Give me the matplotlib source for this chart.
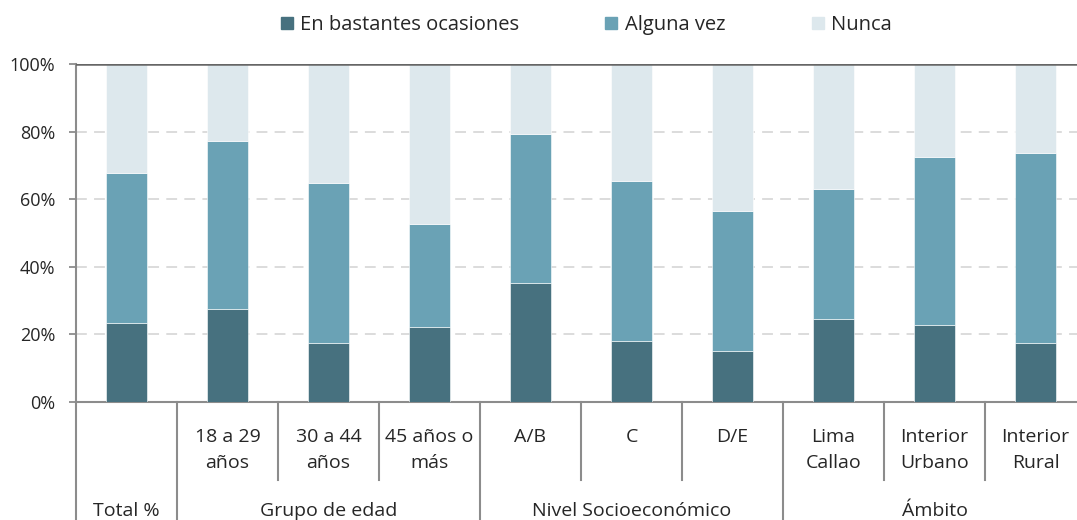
import matplotlib
matplotlib.use("Agg")
from matplotlib import pyplot as plt
from matplotlib.patches import Patch
import numpy as np

plt.rcParams['font.family'] = ['Open Sans', 'DejaVu Sans']

categorias = ["", "18 a 29\naños", "30 a 44\naños", "45 años o\nmás", "A/B", "C", "D/E",
              "Lima\nCallao", "Interior\nUrbano", "Interior\nRural"]
grupos = ["Total %", "Grupo de edad", "Nivel Socioeconómico", "Ámbito"]
grupo_centros = [0, 2, 5, 8]

bastantes = [23.3, 27.5, 17.5, 22.2, 35.2, 18.2, 15.2, 24.6, 22.8, 17.5]
alguna = [44.4, 49.7, 47.4, 30.6, 44.2, 47.1, 41.4, 38.4, 49.7, 56.1]
nunca = [32.3, 22.8, 35.1, 47.2, 20.6, 34.7, 43.4, 37.0, 27.5, 26.4]

c_osc = "#47717f"
c_med = "#6aa2b5"
c_cla = "#dde8ed"
gris = "#8c8c8c"
texto = "#262626"

fig = plt.figure(figsize=(10.77, 5.2), dpi=100)
ax = fig.add_axes([76 / 1077, 1 - 402 / 520, 1010 / 1077, (402 - 64.3) / 520])

x = np.arange(len(categorias))
w = 0.41
b1 = np.array(bastantes)
b2 = b1 + np.array(alguna)
ax.bar(x, bastantes, w, color=c_osc, edgecolor="white", linewidth=0.4, zorder=3)
ax.bar(x, alguna, w, bottom=b1, color=c_med, edgecolor="white", linewidth=0.4, zorder=3)
ax.bar(x, nunca, w, bottom=b2, color=c_cla, edgecolor="white", linewidth=0.4, zorder=3)

ax.set_xlim(-0.5, 9.5)
ax.set_ylim(0, 100)
ax.set_yticks(range(0, 101, 20))
ax.set_yticklabels([f"{v}%" for v in range(0, 101, 20)], fontsize=13, color=texto)
ax.tick_params(axis="y", length=5, width=1.3, color=gris, pad=10)
ax.set_xticks([])

for v in [20, 40, 60, 80]:
    ax.axhline(v, color="#d9d9d9", lw=1.3, ls=(0, (6, 4)), zorder=1)
ax.axhline(100, color="#666666", lw=1.8, zorder=4)

for s in ["top", "right"]:
    ax.spines[s].set_visible(False)
ax.spines["left"].set_color(gris)
ax.spines["left"].set_linewidth(1.5)
ax.spines["bottom"].set_color(gris)
ax.spines["bottom"].set_linewidth(1.5)

tr = ax.get_xaxis_transform()
alto = 402 - 64.3
for sx in [-0.5, 0.5, 3.5, 6.5, 9.5]:
    ax.plot([sx, sx], [0, -(520 - 402) / alto], transform=tr, color=gris, lw=1.5, clip_on=False)
for sx in [1.5, 2.5, 4.5, 5.5, 7.5, 8.5]:
    ax.plot([sx, sx], [0, -(480 - 402) / alto], transform=tr, color=gris, lw=1.5, clip_on=False)

for i, lab in enumerate(categorias):
    for k, linea in enumerate(lab.split("\n")):
        ax.text(i, -(437 + 26 * k - 402) / alto, linea, transform=tr, ha="center", va="center",
                fontsize=14, color=texto)
for c, g in zip(grupo_centros, grupos):
    ax.text(c, -(511 - 402) / alto, g, transform=tr, ha="center", va="center",
            fontsize=14, color=texto)

handles = [Patch(color=c_osc), Patch(color=c_med), Patch(color=c_cla)]
fig.legend(handles, ["En bastantes ocasiones", "Alguna vez", "Nunca"], loc="center",
           bbox_to_anchor=(586 / 1077, 1 - 25 / 520), ncol=3, frameon=False, fontsize=14.5,
           handlelength=0.6, handleheight=0.6, handletextpad=0.35, columnspacing=4.3,
           labelcolor=texto)

fig.savefig("out.png", dpi=100)
